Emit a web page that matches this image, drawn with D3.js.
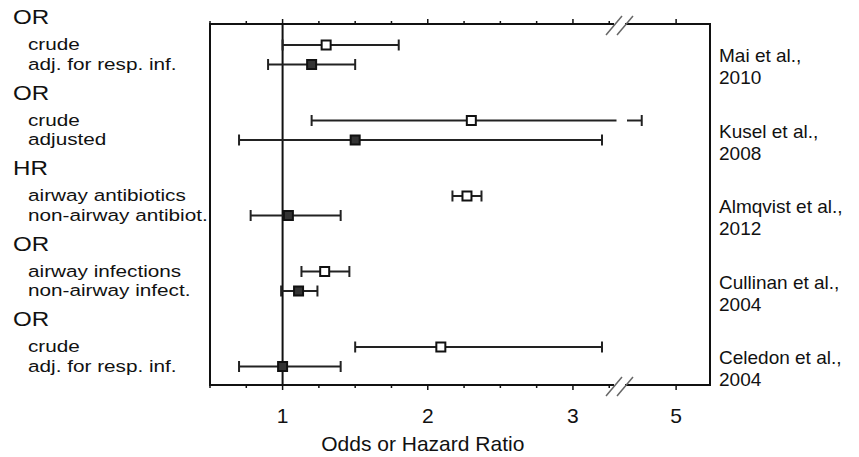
<!DOCTYPE html>
<html>
<head>
<meta charset="utf-8">
<script src="https://cdn.jsdelivr.net/npm/d3@7"></script>
<style>
  body { margin: 0; background: #fff; }
  svg text { font-family: "Liberation Sans", Arial, Helvetica, sans-serif; fill: #111; }
</style>
</head>
<body>
<svg id="chart" width="859" height="457"></svg>
<script>
// forest plot: odds / hazard ratios of five studies

var groupTypes = ["OR", "OR", "HR", "OR", "OR"];
var rowLabels = [
  ["crude", "adj. for resp. inf."],
  ["crude", "adjusted"],
  ["airway antibiotics", "non-airway antibiot."],
  ["airway infections", "non-airway infect."],
  ["crude", "adj. for resp. inf."]
];
var studyNames = ["Mai et al.,", "Kusel et al.,", "Almqvist et al.,", "Cullinan et al.,", "Celedon et al.,"];
var studyYears = ["2010", "2008", "2012", "2004", "2004"];

// [first row, second row] per study
var estimates = [[1.30, 1.20], [2.30, 1.50], [2.27, 1.04], [1.29, 1.11], [2.09, 1.00]];
var lowerCI   = [[1.00, 0.90], [1.20, 0.70], [2.17, 0.78], [1.13, 0.99], [1.50, 0.70]];
var upperCI   = [[1.80, 1.50], [4.30, 3.20], [2.37, 1.40], [1.46, 1.24], [3.20, 1.40]];

var majorTicks = [1, 2, 3, 5];
var minorTicks = [0.5, 0.75, 1.25, 1.5, 1.75, 2.25, 2.5, 2.75, 3.25];
var axisTitle = "Odds or Hazard Ratio";

// axis is broken between 3.3 and 4
var breakFrom = 3.3, breakTo = 4.0;

var svg = d3.select("#chart");

var plot = {left: 210, right: 710, top: 24, bottom: 385};

var x = d3.scaleLinear()
  .domain([0.5, breakFrom, breakTo, 5.69])
  .range([plot.left, 616.5, 627, plot.right]);

var yGroup = d3.scaleLinear().domain([0, 4]).range([45, 347]);
var rowGap = 19.5;
var yRow = function(g, r){ return yGroup(g) + r * rowGap; };

// frame
svg.append("rect")
  .attr("x", plot.left).attr("y", plot.top)
  .attr("width", plot.right - plot.left)
  .attr("height", plot.bottom - plot.top)
  .attr("fill", "none").attr("stroke", "#111").attr("stroke-width", 2);

// ticks on top and bottom
var tickG = svg.append("g").attr("stroke", "#111").attr("stroke-width", 1.5);
[plot.top, plot.bottom].forEach(function(yy){
  var dir = yy == plot.top ? -1 : 1;
  tickG.selectAll(null).data(majorTicks).enter().append("line")
    .attr("x1", function(d){ return x(d); }).attr("x2", function(d){ return x(d); })
    .attr("y1", yy).attr("y2", yy + dir * 5);
  tickG.selectAll(null).data(minorTicks).enter().append("line")
    .attr("x1", function(d){ return x(d); }).attr("x2", function(d){ return x(d); })
    .attr("y1", yy).attr("y2", yy + dir * 3);
});

// axis break marks
var bx1 = x(breakFrom) - 2.5, bx2 = x(breakTo) - 2;
[plot.top, plot.bottom].forEach(function(yy){
  svg.append("rect")
    .attr("x", bx1).attr("y", yy - 3)
    .attr("width", bx2 - bx1).attr("height", 6)
    .attr("fill", "#fff");
  [bx1, bx2].forEach(function(cx){
    svg.append("line")
      .attr("x1", cx - 8).attr("y1", yy + 11)
      .attr("x2", cx + 8).attr("y2", yy - 8)
      .attr("stroke", "#666").attr("stroke-width", 1.5);
  });
});

// reference line at 1
svg.append("line")
  .attr("x1", x(1)).attr("x2", x(1))
  .attr("y1", plot.top).attr("y2", plot.bottom)
  .attr("stroke", "#111").attr("stroke-width", 2);

// flatten rows
var rows = [];
estimates.forEach(function(pair, g){
  pair.forEach(function(est, r){
    rows.push({g: g, r: r, est: est, lo: lowerCI[g][r], hi: upperCI[g][r]});
  });
});

var bars = svg.append("g").attr("stroke", "#222").attr("stroke-width", 2);

rows.forEach(function(d){
  var yy = yRow(d.g, d.r);
  if (d.hi > breakFrom) {
    bars.append("line").attr("x1", x(d.lo)).attr("x2", x(breakFrom)).attr("y1", yy).attr("y2", yy);
    bars.append("line").attr("x1", x(breakTo)).attr("x2", x(d.hi)).attr("y1", yy).attr("y2", yy);
  } else {
    bars.append("line").attr("x1", x(d.lo)).attr("x2", x(d.hi)).attr("y1", yy).attr("y2", yy);
  }
  [d.lo, d.hi].forEach(function(v){
    bars.append("line")
      .attr("x1", x(v)).attr("x2", x(v))
      .attr("y1", yy - 5.5).attr("y2", yy + 5.5);
  });
});

var sq = 9;
svg.append("g").selectAll("rect").data(rows).enter().append("rect")
  .attr("x", function(d){ return x(d.est) - sq / 2; })
  .attr("y", function(d){ return yRow(d.g, d.r) - sq / 2; })
  .attr("width", sq).attr("height", sq)
  .attr("fill", function(d){ return d.r == 0 ? "#fff" : "#333"; })
  .attr("stroke", "#111").attr("stroke-width", 2);

// left labels (the original lettering is a bit wide, so stretch it)
var leftG = svg.append("g");
groupTypes.forEach(function(t, g){
  leftG.append("text")
    .attr("transform", "translate(13," + (yRow(g, 0) - 21) + ") scale(1.15,1)")
    .attr("font-size", 21).text(t);
  rowLabels[g].forEach(function(lab, r){
    leftG.append("text")
      .attr("transform", "translate(28," + (yRow(g, r) + 5) + ") scale(1.22,1)")
      .attr("font-size", 17).text(lab);
  });
});

// right labels
studyNames.forEach(function(n, g){
  var t = svg.append("text").attr("x", 719).attr("font-size", 19);
  t.append("tspan").attr("x", 719).attr("y", yRow(g, 0) + 17).text(n);
  t.append("tspan").attr("x", 719).attr("y", yRow(g, 0) + 39).text(studyYears[g]);
});

// tick labels
svg.selectAll(".tl").data(majorTicks).enter().append("text")
  .attr("class", "tl")
  .attr("x", function(d){ return x(d); })
  .attr("y", 423)
  .attr("text-anchor", "middle")
  .attr("font-size", 21)
  .text(function(d){ return d; });

svg.append("text")
  .attr("x", x(2) - 5).attr("y", 451)
  .attr("text-anchor", "middle")
  .attr("font-size", 21)
  .text(axisTitle);
</script>
</body>
</html>
